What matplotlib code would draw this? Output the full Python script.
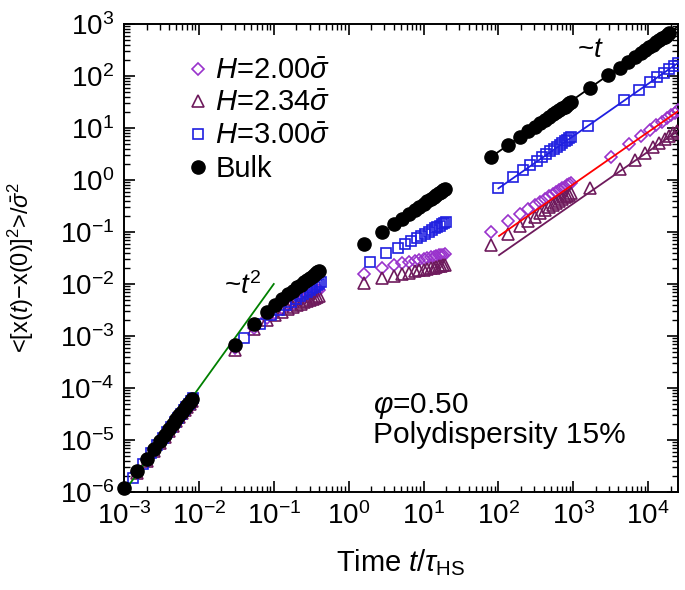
import matplotlib
matplotlib.use("Agg")
import matplotlib.pyplot as plt
from matplotlib.ticker import LogLocator, NullFormatter

plt.rcParams["font.family"] = ["Liberation Sans", "DejaVu Sans"]
plt.rcParams["mathtext.fontset"] = "custom"
plt.rcParams["mathtext.rm"] = "Liberation Sans"
plt.rcParams["mathtext.it"] = "Liberation Sans:italic"
plt.rcParams["mathtext.bf"] = "Liberation Sans:bold"

# ---------------------------------------------------------
# Data
# ---------------------------------------------------------
t_bulk = [1.0e-3, 1.5e-3, 2.0e-3, 2.5e-3, 3.0e-3, 3.5e-3, 4.0e-3, 4.5e-3,
          5.0e-3, 5.5e-3, 6.0e-3, 6.5e-3, 7.0e-3, 7.5e-3, 8.0e-3,
          0.030, 0.055, 0.080, 0.105, 0.130, 0.155, 0.180, 0.205,
          0.230, 0.255, 0.280, 0.305, 0.330, 0.355, 0.380, 0.405,
          1.6, 2.8, 4.0, 5.2, 6.4, 7.6, 8.8, 10.0,
          11.2, 12.4, 13.6, 14.8, 16.0, 17.2, 18.4, 19.6,
          79, 136, 193, 250, 307, 364, 421, 478,
          535, 592, 649, 706, 763, 820, 877, 934,
          1645, 2895, 4145, 5395, 6645, 7895, 9145, 10395,
          11645, 12895, 14145, 15395, 16645, 17895, 19145]
msd_bulk = [1.17e-6, 2.53e-6, 4.36e-6, 6.67e-6, 9.43e-6, 1.26e-5, 1.63e-5, 2.04e-5,
            2.49e-5, 2.98e-5, 3.52e-5, 4.10e-5, 4.72e-5, 5.38e-5, 6.07e-5,
            6.8e-4, 1.68e-3, 2.9e-3, 4.0e-3, 5.15e-3, 6.3e-3, 7.45e-3, 8.6e-3,
            9.75e-3, 1.09e-2, 1.2e-2, 1.31e-2, 1.43e-2, 1.55e-2, 1.67e-2, 1.79e-2,
            0.059, 0.098, 0.14, 0.18, 0.221, 0.262, 0.304, 0.345,
            0.386, 0.428, 0.469, 0.511, 0.552, 0.593, 0.635, 0.676,
            2.8, 4.7, 6.8, 8.7, 10.6, 12.6, 14.5, 16.4,
            18.3, 20.2, 22.1, 24.0, 25.9, 27.8, 29.7, 31.6,
            58, 105, 143, 186, 229, 272, 315, 358,
            401, 444, 487, 530, 573, 616, 660]

t_h200 = [1.0e-3, 1.5e-3, 2.0e-3, 2.5e-3, 3.0e-3, 3.5e-3, 4.0e-3, 4.5e-3,
          5.0e-3, 5.5e-3, 6.0e-3, 6.5e-3, 7.0e-3, 7.5e-3, 8.0e-3,
          0.030, 0.055, 0.080, 0.105, 0.130, 0.155, 0.180, 0.205,
          0.230, 0.255, 0.280, 0.305, 0.330, 0.355, 0.380, 0.405,
          1.6, 2.8, 4.0, 5.2, 6.4, 7.6, 8.8, 10.0,
          11.2, 12.4, 13.6, 14.8, 16.0, 17.2, 18.4, 19.6,
          79, 136, 193, 250, 307, 364, 421, 478,
          535, 592, 649, 706, 763, 820, 877, 934,
          3140, 5570, 8000, 10430, 12860, 15290, 17720, 20150, 22580, 24900]
msd_h200 = [1.12e-6, 2.4e-6, 4.15e-6, 6.3e-6, 8.95e-6, 1.2e-5, 1.55e-5, 1.94e-5,
            2.37e-5, 2.83e-5, 3.34e-5, 3.9e-5, 4.48e-5, 5.1e-5, 5.75e-5,
            6.0e-4, 1.45e-3, 2.2e-3, 2.8e-3, 3.3e-3, 3.8e-3, 4.2e-3, 4.6e-3,
            5.0e-3, 5.4e-3, 5.8e-3, 6.2e-3, 6.6e-3, 7.0e-3, 7.3e-3, 7.6e-3,
            0.0156, 0.0200, 0.0230, 0.0250, 0.0266, 0.0281, 0.0294, 0.0305,
            0.0317, 0.0327, 0.0336, 0.0345, 0.0354, 0.0362, 0.0369, 0.0377,
            0.100, 0.161, 0.220, 0.276, 0.330, 0.384, 0.436, 0.487,
            0.538, 0.588, 0.638, 0.687, 0.736, 0.784, 0.832, 0.879,
            2.73, 4.85, 6.96, 9.07, 11.2, 13.3, 15.4, 17.5, 19.6, 21.8]

t_h234 = [1.0e-3, 1.5e-3, 2.0e-3, 2.5e-3, 3.0e-3, 3.5e-3, 4.0e-3, 4.5e-3,
          5.0e-3, 5.5e-3, 6.0e-3, 6.5e-3, 7.0e-3, 7.5e-3, 8.0e-3,
          0.030, 0.055, 0.080, 0.105, 0.130, 0.155, 0.180, 0.205,
          0.230, 0.255, 0.280, 0.305, 0.330, 0.355, 0.380, 0.405,
          1.6, 2.8, 4.0, 5.2, 6.4, 7.6, 8.8, 10.0,
          11.2, 12.4, 13.6, 14.8, 16.0, 17.2, 18.4, 19.6,
          79, 136, 193, 250, 307, 364, 421, 478,
          535, 592, 649, 706, 763, 820, 877, 934,
          1645, 4145, 6645, 9145, 11645, 14145, 16645, 19145, 21645, 24145]
msd_h234 = [1.08e-6, 2.33e-6, 4.0e-6, 6.1e-6, 8.7e-6, 1.16e-5, 1.5e-5, 1.88e-5,
            2.3e-5, 2.75e-5, 3.25e-5, 3.78e-5, 4.35e-5, 4.95e-5, 5.6e-5,
            5.4e-4, 1.35e-3, 2.0e-3, 2.5e-3, 2.9e-3, 3.3e-3, 3.6e-3, 3.9e-3,
            4.2e-3, 4.5e-3, 4.8e-3, 5.0e-3, 5.2e-3, 5.4e-3, 5.6e-3, 5.8e-3,
            0.0103, 0.0129, 0.0144, 0.0155, 0.0165, 0.0174, 0.0182, 0.0189,
            0.0196, 0.0202, 0.0207, 0.0213, 0.0218, 0.0222, 0.0227, 0.0231,
            0.056, 0.093, 0.128, 0.163, 0.198, 0.232, 0.265, 0.299,
            0.332, 0.364, 0.397, 0.429, 0.461, 0.494, 0.525, 0.557,
            0.69, 1.6, 2.45, 3.35, 4.25, 5.15, 6.05, 6.95, 7.95, 8.9]

t_h300 = [1.3e-3, 1.8e-3, 2.3e-3, 2.8e-3, 3.3e-3, 3.8e-3, 4.3e-3, 4.8e-3,
          5.3e-3, 5.8e-3, 6.3e-3, 6.8e-3, 7.3e-3, 7.8e-3, 8.3e-3,
          0.040, 0.066, 0.092, 0.118, 0.144, 0.170, 0.196, 0.222,
          0.248, 0.274, 0.300, 0.326, 0.352, 0.378, 0.404, 0.430,
          1.9, 3.2, 4.5, 5.7, 6.9, 8.1, 9.3, 10.5,
          11.7, 12.9, 14.1, 15.3, 16.5, 17.7, 18.9, 20.1,
          100, 156, 212, 268, 324, 380, 436, 492,
          548, 604, 660, 716, 772, 828, 884, 940,
          1550, 4750, 7650, 10450, 13300, 16150, 19000, 21850, 24700]
msd_h300 = [1.87e-6, 3.47e-6, 5.52e-6, 8.03e-6, 1.10e-5, 1.43e-5, 1.81e-5, 2.23e-5,
            2.70e-5, 3.20e-5, 3.75e-5, 4.33e-5, 4.96e-5, 5.62e-5, 6.33e-5,
            9.0e-4, 1.7e-3, 2.5e-3, 3.2e-3, 3.9e-3, 4.6e-3, 5.2e-3, 5.9e-3,
            6.5e-3, 7.1e-3, 7.7e-3, 8.3e-3, 8.9e-3, 9.5e-3, 1.01e-2, 1.07e-2,
            0.027, 0.039, 0.0482, 0.058, 0.0673, 0.0762, 0.0849, 0.0933,
            0.1015, 0.1096, 0.1175, 0.1252, 0.1328, 0.1403, 0.1476, 0.1549,
            0.69, 1.13, 1.53, 1.93, 2.33, 2.74, 3.14, 3.54,
            3.95, 4.35, 4.75, 5.16, 5.56, 5.96, 6.36, 6.77,
            11, 34.5, 55, 75, 96, 116, 137, 157, 176]

# guide lines (~t^2 and ~t fits)
fit_t2_t = [1e-3, 0.1]
fit_t2_m = [1e-6, 1e-2]
fit_bulk_t = [79, 2.5e4]
fit_bulk_m = [2.75, 900]
fit_h300_t = [100, 2.5e4]
fit_h300_m = [0.69, 178]
fit_h200_t = [102, 2.5e4]
fit_h200_m = [0.084, 21]
fit_h234_t = [102, 2.5e4]
fit_h234_m = [0.036, 8.8]

c_h200 = "#9933cc"
c_h234 = "#6e1a5c"
c_h300 = "#1f1fe0"

# ---------------------------------------------------------
# Plot
# ---------------------------------------------------------
fig = plt.figure(figsize=(6.85, 5.9), dpi=100)
ax = fig.add_axes([124 / 685, 98 / 590, 554 / 685, 468 / 590])

ax.plot(fit_t2_t, fit_t2_m, color="#008000", lw=1.3, zorder=4)
ax.plot(fit_h200_t, fit_h200_m, color="#ff0000", lw=1.3, zorder=4)
ax.plot(fit_h234_t, fit_h234_m, color=c_h234, lw=1.3, zorder=4)
ax.plot(fit_h300_t, fit_h300_m, color=c_h300, lw=1.3, zorder=4)
ax.plot(fit_bulk_t, fit_bulk_m, color="black", lw=1.3, zorder=4)

ax.plot(t_h200, msd_h200, ls="none", marker="D", ms=6.5, mfc="none",
        mec=c_h200, mew=1.2, label=r"$H$=2.00$\bar{\sigma}$", zorder=3)
ax.plot(t_h234, msd_h234, ls="none", marker="^", ms=8.5, mfc="none",
        mec=c_h234, mew=1.2, label=r"$H$=2.34$\bar{\sigma}$", zorder=3)
ax.plot(t_h300, msd_h300, ls="none", marker="s", ms=7.5, mfc="none",
        mec=c_h300, mew=1.2, label=r"$H$=3.00$\bar{\sigma}$", zorder=3)
ax.plot(t_bulk, msd_bulk, ls="none", marker="o", ms=9.5, color="black",
        label="Bulk", zorder=5, clip_on=False)

ax.set_xscale("log")
ax.set_yscale("log")
ax.set_xlim(1e-3, 2.5e4)
ax.set_ylim(1e-6, 1e3)

ax.xaxis.set_major_locator(LogLocator(base=10, numticks=20))
ax.yaxis.set_major_locator(LogLocator(base=10, numticks=20))
ax.xaxis.set_minor_locator(LogLocator(base=10, subs=range(2, 10), numticks=20))
ax.yaxis.set_minor_locator(LogLocator(base=10, subs=range(2, 10), numticks=20))
ax.xaxis.set_minor_formatter(NullFormatter())
ax.yaxis.set_minor_formatter(NullFormatter())

ax.tick_params(which="both", direction="in", top=True, right=True, labelsize=20)
ax.tick_params(which="major", length=8, width=1.2, pad=7)
ax.tick_params(which="minor", length=4, width=1.0)
for s in ax.spines.values():
    s.set_linewidth(1.4)

ax.set_xlabel(r"Time $t$/$\tau_{\rm HS}$", fontsize=21, labelpad=13)
ax.set_ylabel(r"<[x($t$)$-$x(0)]$^2$>/$\bar{\sigma}^2$", fontsize=17)
ax.yaxis.set_label_coords(-0.158, 0.48)

ax.text(0.038, 9e-3, r"~$t^2$", fontsize=20, ha="center", va="center")
ax.text(1700, 320, r"~$t$", fontsize=20, ha="center", va="center")
ax.text(0.45, 0.169, r"$\varphi$=0.50", transform=ax.transAxes,
        fontsize=21.5, va="baseline")
ax.text(0.45, 0.105, "Polydispersity 15%", transform=ax.transAxes,
        fontsize=21.5, va="baseline")

ax.legend(loc="upper left", bbox_to_anchor=(0.112, 0.93), frameon=False,
          fontsize=21, handlelength=0.8, handletextpad=0.2,
          labelspacing=0.16, borderpad=0, borderaxespad=0)

fig.savefig("out.png", dpi=100)
